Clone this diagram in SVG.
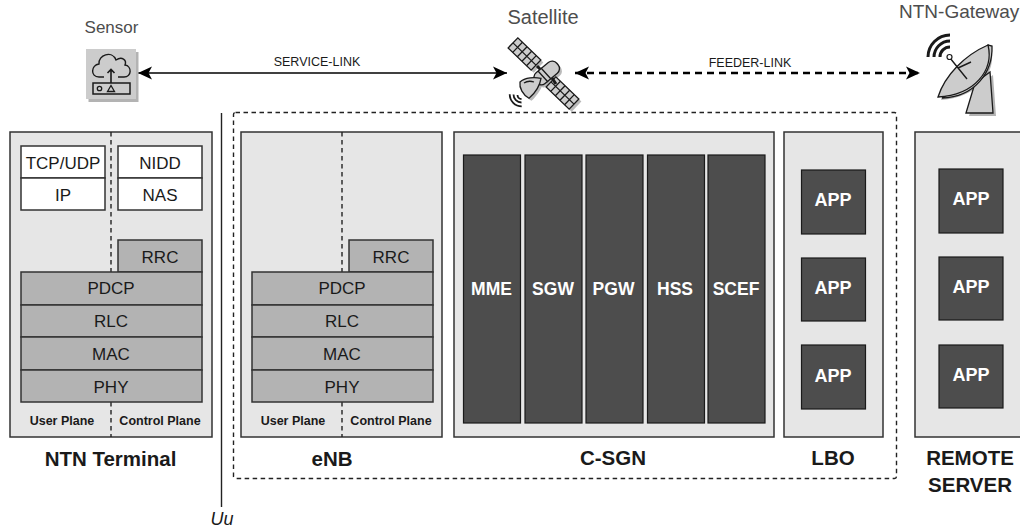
<svg xmlns="http://www.w3.org/2000/svg" width="1020" height="530" viewBox="0 0 1020 530">
<style>
text{font-family:"Liberation Sans",Arial,sans-serif;text-anchor:middle;fill:#1a1a1a}
.panel{fill:#e6e6e6;stroke:#333;stroke-width:1.5}
.w{fill:#fff;stroke:#333;stroke-width:1.5}
.g{fill:#b3b3b3;stroke:#333;stroke-width:1.5}
.d{fill:#4d4d4d;stroke:#1a1a1a;stroke-width:1.2}
.t{font-size:17px}
.wt{font-size:17.5px;font-weight:bold;fill:#fff}
.wa{font-size:18px;font-weight:bold;fill:#fff}
.pl{font-size:12.5px;font-weight:bold}
.h{font-size:20.5px;font-weight:bold}
.top{font-size:20px;fill:#4d4d4d}
.lk{font-size:12.5px}
.dash{fill:none;stroke:#222;stroke-width:1.4;stroke-dasharray:4.500 3.500}
.ln{fill:none;stroke:#1a1a1a;stroke-width:1.3}
.sh{fill:#b3b3b3;stroke:none}
.ic{fill:#cccccc;stroke:#1a1a1a;stroke-width:1.3}
</style>
<defs>
<marker id="ah" markerWidth="15" markerHeight="14" refX="14" refY="7" orient="auto-start-reverse" markerUnits="userSpaceOnUse"><path d="M0 0.500L14 7L0 13.500L3.500 7Z" fill="#000"/></marker>
<g id="solar"><rect x="-16" y="-7" width="32" height="14" class="ic"/><path class="ln" d="M-16 0H16M-9.600 -7V7M-3.200 -7V7M3.200 -7V7M9.600 -7V7"/></g>
</defs>
<g id="connectors">
<path d="M138 73H507" fill="none" stroke="#000" stroke-width="1.6" marker-start="url(#ah)" marker-end="url(#ah)"/>
<path d="M575 73H920" fill="none" stroke="#000" stroke-width="2.6" stroke-dasharray="7 5" marker-start="url(#ah)" marker-end="url(#ah)"/>
<path d="M221.500 113V507" fill="none" stroke="#222" stroke-width="1.4"/>
<text class="lk" x="317" y="66">SERVICE-LINK</text>
<text class="lk" x="750" y="67">FEEDER-LINK</text>
<text x="222" y="525" style="font-size:18px;font-style:italic">Uu</text>
</g>
<g id="sensor">
<text x="111.500" y="33" style="font-size:17px;fill:#4d4d4d">Sensor</text>
<rect x="88.500" y="52" width="50" height="50" class="sh"/>
<rect x="86" y="49" width="50" height="50" fill="#cccccc"/>
<path d="M104 77H99C90 77 91 65 99 64C98 55 112 50 116 60C122 56 127 60 125 65C132 66 132 77 124 77H118" fill="none" stroke="#1a1a1a" stroke-width="1.400"/>
<path d="M111 83V69.500M107.500 73L111 69.500L114.500 73" fill="none" stroke="#1a1a1a" stroke-width="1.600"/>
<rect x="93" y="83" width="37" height="11" fill="none" stroke="#1a1a1a" stroke-width="1.500"/>
<circle cx="99.500" cy="88.500" r="2.200" fill="none" stroke="#1a1a1a" stroke-width="1.300"/>
<path d="M107.500 91.500L111 85.500L114.500 91.500Z" fill="none" stroke="#1a1a1a" stroke-width="1.300"/>
</g>
<g id="satellite">
<text class="top" x="543" y="24">Satellite</text>
<g transform="translate(2.500 2.500)" opacity="0.9">
<rect x="-16" y="-7" width="32" height="14" class="sh" transform="translate(524.500 54) rotate(44)"/>
<rect x="-16" y="-7" width="32" height="14" class="sh" transform="translate(562.500 93) rotate(44)"/>
<rect x="-14" y="-7" width="28" height="14" rx="6" class="sh" transform="translate(546.700 73) rotate(-40)"/>
<path class="sh" d="M520 82C525 77 535 77 541 78.300C540 85 535 93 529 98.300C523 95 519 88 520 82Z"/>
</g>
<use href="#solar" transform="translate(524.500 54) rotate(44)"/>
<use href="#solar" transform="translate(562.500 93) rotate(44)"/>
<path d="M537 66L545 74M552 78L556 84" stroke="#1a1a1a" stroke-width="3" fill="none"/>
<rect x="-14" y="-7" width="28" height="14" rx="6" class="ic" transform="translate(546.700 73) rotate(-40)"/>
<path class="ln" d="M541 68L551 79M538 71L548 82"/>
<path class="ic" d="M520 82C525 77 535 77 541 78.300C540 85 535 93 529 98.300C523 95 519 88 520 82Z"/>
<path class="ln" d="M524 83C527 81 531 81 534 82"/>
<path d="M509.700 94.300A12 12 0 0 0 521.700 106.300M513.500 94.500A8 8 0 0 0 521.500 102.500M517.500 95A4 4 0 0 0 521.500 99" fill="none" stroke="#1a1a1a" stroke-width="1.800"/>
</g>
<g id="gateway">
<text x="899" y="18" style="font-size:19px;fill:#4d4d4d;text-anchor:start">NTN-Gateway</text>
<path class="sh" d="M941 100C948 78 968 58 991 48C997 72 979 97 941 100ZM969 116L978 86L993 75L996 116Z"/>
<path class="ic" d="M966 113L975 83L990 72L993 113Z"/>
<path class="ic" d="M942 98C975 97 993 72 992 46L988 45C975 70 960 88 942 98Z"/>
<path class="ic" d="M938 97C945 75 965 55 988 45C994 70 975 95 938 97Z"/>
<path d="M950 58L967 79M958 68L971 62" stroke="#1a1a1a" stroke-width="1.400" fill="none"/>
<circle cx="949.500" cy="57" r="2.500" fill="#fff" stroke="#1a1a1a" stroke-width="1.200"/>
<path d="M928 57A22 22 0 0 1 950 35M934 57A16 16 0 0 1 950 41M940 57A10 10 0 0 1 950 47" fill="none" stroke="#1a1a1a" stroke-width="3"/>
</g>
<g id="domain"><rect x="233.500" y="112.500" width="663" height="366" rx="2" class="dash"/></g>
<g id="ntn-terminal">
<rect class="panel" x="10" y="132" width="202" height="305"/>
<path class="dash" d="M111 132V272M111 402V437"/>
<rect class="w" x="21" y="146" width="84" height="32"/><text class="t" x="63" y="169">TCP/UDP</text>
<rect class="w" x="21" y="178" width="84" height="32"/><text class="t" x="63" y="201">IP</text>
<rect class="w" x="118" y="146" width="84" height="32"/><text class="t" x="160" y="169">NIDD</text>
<rect class="w" x="118" y="178" width="84" height="32"/><text class="t" x="160" y="201">NAS</text>
<rect class="g" x="118" y="240" width="84" height="32"/><text class="t" x="160" y="263">RRC</text>
<rect class="g" x="21" y="272" width="181" height="33"/><text class="t" x="111" y="294">PDCP</text>
<rect class="g" x="21" y="305" width="181" height="32"/><text class="t" x="111" y="327">RLC</text>
<rect class="g" x="21" y="337" width="181" height="33"/><text class="t" x="111" y="360">MAC</text>
<rect class="g" x="21" y="370" width="181" height="32"/><text class="t" x="111" y="393">PHY</text>
<text class="pl" x="62" y="425">User Plane</text><text class="pl" x="160" y="425">Control Plane</text>
<text class="h" x="110.500" y="466">NTN Terminal</text>
</g>
<g id="enb">
<rect class="panel" x="241" y="132" width="201" height="305"/>
<path class="dash" d="M342 132V272M342 402V437"/>
<rect class="g" x="349" y="240" width="84" height="32"/><text class="t" x="391" y="263">RRC</text>
<rect class="g" x="252" y="272" width="181" height="33"/><text class="t" x="342" y="294">PDCP</text>
<rect class="g" x="252" y="305" width="181" height="32"/><text class="t" x="342" y="327">RLC</text>
<rect class="g" x="252" y="337" width="181" height="33"/><text class="t" x="342" y="360">MAC</text>
<rect class="g" x="252" y="370" width="181" height="32"/><text class="t" x="342" y="393">PHY</text>
<text class="pl" x="293" y="425">User Plane</text><text class="pl" x="391" y="425">Control Plane</text>
<text class="h" x="332" y="466">eNB</text>
</g>
<g id="c-sgn">
<rect class="panel" x="454" y="132" width="320" height="305"/>
<rect class="d" x="463.500" y="155" width="57" height="268"/><text class="wt" x="491.500" y="295">MME</text>
<rect class="d" x="525" y="155" width="57" height="268"/><text class="wt" x="553" y="295">SGW</text>
<rect class="d" x="586" y="155" width="57" height="268"/><text class="wt" x="613.500" y="295">PGW</text>
<rect class="d" x="647.500" y="155" width="57" height="268"/><text class="wt" x="675" y="295">HSS</text>
<rect class="d" x="708" y="155" width="57" height="268"/><text class="wt" x="736" y="295">SCEF</text>
<text class="h" x="613" y="465">C-SGN</text>
</g>
<g id="lbo">
<rect class="panel" x="784" y="132" width="99" height="305"/>
<rect class="d" x="801.500" y="170" width="64" height="64"/><text class="wa" x="833" y="206">APP</text>
<rect class="d" x="801.500" y="258" width="64" height="63"/><text class="wa" x="833" y="294">APP</text>
<rect class="d" x="801.500" y="345" width="64" height="64"/><text class="wa" x="833" y="382">APP</text>
<text class="h" x="833" y="465">LBO</text>
</g>
<g id="remote-server">
<rect class="panel" x="915" y="132" width="120" height="305"/>
<rect class="d" x="939" y="169" width="64" height="64"/><text class="wa" x="971" y="205">APP</text>
<rect class="d" x="939" y="257" width="64" height="63"/><text class="wa" x="971" y="293">APP</text>
<rect class="d" x="939" y="345" width="64" height="63"/><text class="wa" x="971" y="381">APP</text>
<text class="h" x="970" y="465">REMOTE</text><text class="h" x="970" y="492">SERVER</text>
</g>
</svg>
